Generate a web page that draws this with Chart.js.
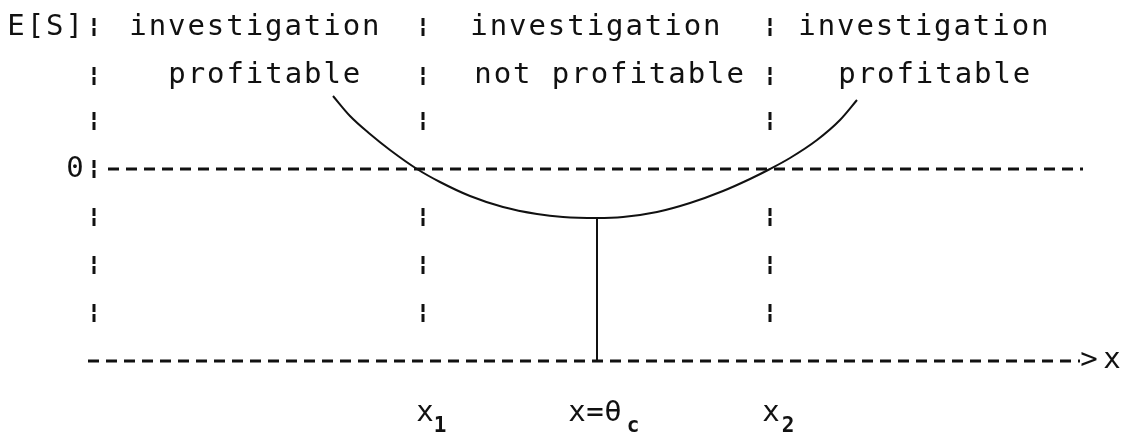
<!DOCTYPE html>
<html>
<head>
<meta charset="utf-8">
<script src="https://cdn.jsdelivr.net/npm/chart.js@4.4.1/dist/chart.umd.min.js"></script>
<style>
  html, body { margin: 0; padding: 0; background: #fff; }
  #wrap { width: 1131px; height: 437px; position: relative; }
</style>
</head>
<body>
<div id="wrap"><canvas id="diagram"></canvas></div>
<script>
// E[S] curve (x in diagram units, E[S] = 0 on the dashed line)
var curveX = [333, 350, 370, 390, 417, 440, 470, 503, 537, 563, 597, 623, 657, 690, 723, 750, 770, 790, 817, 840, 857];
var curveY = [73, 53, 35, 19, 0, -13, -27, -38, -45, -48, -49, -48, -43, -34, -22, -10, 0, 11, 29, 49, 69];

// key x positions
var axisX = 94;
var x1 = 423;
var thetaC = 597;
var x2 = 770;
var thetaMin = -49;

// dashed lines
var zeroLineX = [108, 1083];
var xAxisX = [88, 1080];
var xAxisY = -192;

// typewriter rows where the "!" marks sit
var rowLevels = [142, 93, 48, 0, -48, -96, -144];
var axisRows = [0, 1, 2, 3, 4, 5, 6];
var dividerRows = [0, 1, 2, 4, 5, 6];

// texts
var regionTop = ['investigation', 'investigation', 'investigation'];
var regionBottom = ['profitable', 'not profitable', 'profitable'];
var regionTopStart = [138, 479, 807];
var regionBottomStart = [177, 483, 847];
var yTitle = 'E[S]';
var yTickLabels = ['0'];
var yTickValues = [0];
var xTickMain = ['x', 'x=\u03b8', 'x'];
var xTickSub = ['1', 'c', '2'];
var xTickValues = [x1, thetaC, x2];

var BAR_HALF = 9;
var PITCH = 19.4;

var curveData = curveX.map(function (x, i) { return { x: x, y: curveY[i] }; });

var barData = [];
function addBars(col, rows) {
    rows.forEach(function (r) {
        barData.push({ x: col, y: rowLevels[r] + BAR_HALF });
        barData.push({ x: col, y: rowLevels[r] - BAR_HALF });
        barData.push({ x: col, y: null });
    });
}
addBars(axisX, axisRows);
addBars(x1, dividerRows);
addBars(x2, dividerRows);

var ink = '#111';

var textPlugin = {
    id: 'typewriterText',
    afterDatasetsDraw: function (chart) {
        var ctx = chart.ctx;
        var sx = chart.scales.x, sy = chart.scales.y;
        function px(v) { return sx.getPixelForValue(v); }
        function py(v) { return sy.getPixelForValue(v); }
        function mono(str, cx, base, pitch) {
            for (var i = 0; i < str.length; i++) {
                ctx.fillText(str[i], cx + i * pitch, base);
            }
        }
        ctx.save();
        ctx.fillStyle = ink;
        ctx.textAlign = 'center';
        ctx.textBaseline = 'alphabetic';
        ctx.font = '29px "DejaVu Sans Mono"';

        mono(yTitle, px(16), py(134), PITCH);
        for (var i = 0; i < regionTop.length; i++) {
            mono(regionTop[i], px(regionTopStart[i]), py(134), PITCH);
            mono(regionBottom[i], px(regionBottomStart[i]), py(86), PITCH);
        }
        yTickValues.forEach(function (v, i) {
            mono(yTickLabels[i], px(75), py(v - 8), PITCH);
        });
        // arrow head of the x axis
        mono('>x', px(1089), py(xAxisY - 7), 23);

        // x tick labels with subscripts
        var mainOffset = [2, -20, 1];
        var subOffset = [15, 56, 17];
        xTickValues.forEach(function (v, i) {
            ctx.font = '29px "DejaVu Sans Mono"';
            mono(xTickMain[i], px(v + mainOffset[i]), py(-252), 18);
            ctx.font = 'bold 21px "DejaVu Sans Mono"';
            mono(xTickSub[i], px(v + mainOffset[i] + subOffset[i]), py(-263), 18);
        });
        ctx.restore();
    }
};

new Chart(document.getElementById('diagram').getContext('2d'), {
    type: 'scatter',
    data: {
        datasets: [{
            label: 'E[S]',
            data: curveData,
            showLine: true,
            borderColor: ink,
            borderWidth: 2,
            pointRadius: 0,
            cubicInterpolationMode: 'monotone'
        }, {
            label: 'zero',
            data: [{ x: zeroLineX[0], y: 0 }, { x: zeroLineX[1], y: 0 }],
            showLine: true,
            borderColor: ink,
            borderWidth: 3,
            borderDash: [11, 7],
            pointRadius: 0
        }, {
            label: 'x axis',
            data: [{ x: xAxisX[0], y: xAxisY }, { x: xAxisX[1], y: xAxisY }],
            showLine: true,
            borderColor: ink,
            borderWidth: 3,
            borderDash: [11, 7],
            pointRadius: 0
        }, {
            label: 'theta_c',
            data: [{ x: thetaC, y: thetaMin }, { x: thetaC, y: xAxisY }],
            showLine: true,
            borderColor: ink,
            borderWidth: 2,
            pointRadius: 0
        }, {
            label: 'bars',
            data: barData,
            showLine: true,
            spanGaps: false,
            borderColor: ink,
            borderWidth: 3,
            borderDash: [8, 2],
            pointRadius: 0
        }]
    },
    options: {
        responsive: true,
        maintainAspectRatio: false,
        animation: false,
        devicePixelRatio: 1,
        layout: { padding: 0 },
        plugins: {
            legend: { display: false },
            tooltip: { enabled: false }
        },
        scales: {
            x: { type: 'linear', min: 0, max: 1131, display: false },
            y: { type: 'linear', min: -268, max: 169, display: false }
        }
    },
    plugins: [textPlugin]
});
</script>
</body>
</html>
